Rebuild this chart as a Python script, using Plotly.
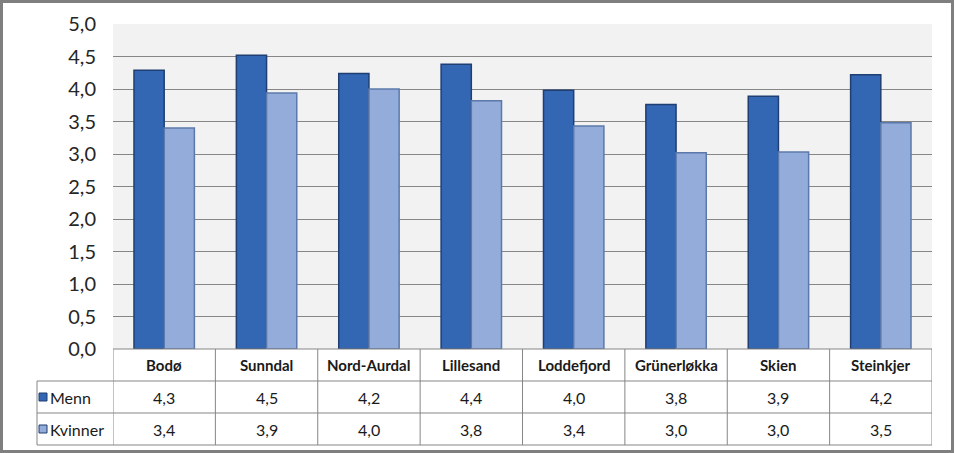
import plotly.graph_objects as go

categories = ["Bodø", "Sunndal", "Nord-Aurdal", "Lillesand", "Loddefjord", "Grünerløkka", "Skien", "Steinkjer"]
menn = [4.29, 4.52, 4.24, 4.38, 3.98, 3.76, 3.89, 4.22]
kvinner = [3.40, 3.94, 4.00, 3.82, 3.43, 3.02, 3.03, 3.48]
series_names = ["Menn", "Kvinner"]
y_ticks = [0, 0.5, 1, 1.5, 2, 2.5, 3, 3.5, 4, 4.5, 5]

W, H = 955, 453
L, R, T, B = 113, 23, 24, 104
PW, PH = W - L - R, H - T - B

def px(x):
    return (x - L) / PW

def py(y):
    return (H - B - y) / PH

menn_col = "#3366b3"
kv_col = "#93acd9"

fig = go.Figure()
fig.add_trace(go.Bar(x=categories, y=menn, name=series_names[0],
                     marker=dict(color=menn_col, line=dict(color="#1f3f73", width=1.5))))
fig.add_trace(go.Bar(x=categories, y=kvinner, name=series_names[1],
                     marker=dict(color=kv_col, line=dict(color="#5c79ab", width=1.5))))

font = "Lato, 'Open Sans', sans-serif"
grid = "#868686"

shapes = []
annotations = []
# table horizontal lines
for yy in [381, 413, 445]:
    shapes.append(dict(type="line", xref="paper", yref="paper", x0=px(37), x1=1, y0=py(yy), y1=py(yy),
                       line=dict(color=grid, width=1)))
shapes.append(dict(type="line", xref="paper", yref="paper", x0=0, x1=1, y0=0, y1=0,
                   line=dict(color=grid, width=1)))
# vertical lines
shapes.append(dict(type="line", xref="paper", yref="paper", x0=px(37), x1=px(37), y0=py(381), y1=py(445),
                   line=dict(color=grid, width=1)))
for i in range(len(categories) + 1):
    shapes.append(dict(type="line", xref="x", yref="paper", x0=i - 0.5, x1=i - 0.5, y0=0, y1=py(445),
                       line=dict(color=grid, width=1)))
# outer border
shapes.append(dict(type="rect", xref="paper", yref="paper", x0=px(1.5), x1=px(952.5), y0=py(1.5), y1=py(451.5),
                   line=dict(color="#7f7f7f", width=3), fillcolor="rgba(0,0,0,0)"))
# legend keys
for name, col, yy in [(series_names[0], menn_col, 397), (series_names[1], kv_col, 429)]:
    shapes.append(dict(type="rect", xref="paper", yref="paper", x0=px(39), x1=px(47), y0=py(yy + 4), y1=py(yy - 4),
                       line=dict(color="#1f3f73", width=1), fillcolor=col))
    annotations.append(dict(xref="paper", yref="paper", x=px(48), y=py(yy), text=name, showarrow=False,
                            xanchor="left", yanchor="middle", font=dict(family=font, size=16, color="#1a1a1a")))

for i, c in enumerate(categories):
    annotations.append(dict(xref="x", yref="paper", x=i, y=py(365), text="<b>%s</b>" % c, showarrow=False,
                            xanchor="center", yanchor="middle", font=dict(family=font, size=15, color="#1a1a1a")))
    annotations.append(dict(xref="x", yref="paper", x=i, y=py(397), text=("%.1f" % menn[i]).replace(".", ","),
                            showarrow=False, xanchor="center", yanchor="middle",
                            font=dict(family=font, size=16, color="#1a1a1a")))
    annotations.append(dict(xref="x", yref="paper", x=i, y=py(429), text=("%.1f" % kvinner[i]).replace(".", ","),
                            showarrow=False, xanchor="center", yanchor="middle",
                            font=dict(family=font, size=16, color="#1a1a1a")))

fig.update_layout(
    width=W, height=H,
    margin=dict(l=L, r=R, t=T, b=B),
    paper_bgcolor="white", plot_bgcolor="#f2f2f2",
    barmode="group", bargap=0.41, bargroupgap=0,
    showlegend=False,
    separators=", ",
    shapes=shapes, annotations=annotations,
    xaxis=dict(range=[-0.5, len(categories) - 0.5], showticklabels=False, showgrid=False, zeroline=False,
               showline=False, ticks=""),
    yaxis=dict(range=[0, 5], tickvals=y_ticks, tickformat=".1f", showgrid=True, gridcolor=grid, gridwidth=1,
               zeroline=False, showline=False, ticks="", ticklabelstandoff=16,
               tickfont=dict(family=font, size=20, color="#262626")),
)

fig.write_html("out.html")
